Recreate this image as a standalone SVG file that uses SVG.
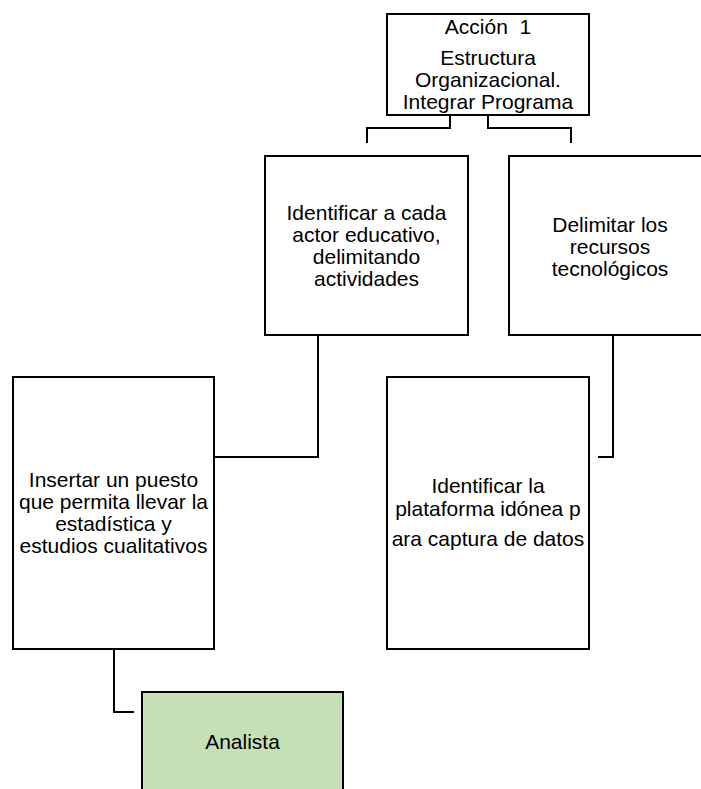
<svg xmlns="http://www.w3.org/2000/svg" width="701" height="789" viewBox="0 0 701 789">
<style>
.box{fill:#ffffff;stroke:#000000;stroke-width:2}
.green{fill:#C5E0B4;stroke:#000000;stroke-width:2}
.t{font-family:"Liberation Sans",Arial,sans-serif;font-size:21px;fill:#000000;text-anchor:middle}
.c{fill:none;stroke:#000000;stroke-width:2}
</style>
<rect width="701" height="789" fill="#ffffff"/>
<g id="connectors">
<polyline class="c" points="450,115 450,128 367,128 367,143"/>
<polyline class="c" points="488,115 488,128 571,128 571,143"/>
<polyline class="c" points="318,335 318,457 215,457"/>
<polyline class="c" points="613,335 613,457 598,457"/>
<polyline class="c" points="114,649 114,712 134,712"/>
</g>
<g id="accion1">
<rect class="box" x="387" y="14" width="202" height="101"/>
<text class="t" x="488" y="34" xml:space="preserve">Acción  1</text>
<text class="t" x="488" y="65">Estructura</text>
<text class="t" x="488" y="87">Organizacional.</text>
<text class="t" x="488" y="109">Integrar Programa</text>
</g>
<g id="identificar-actor">
<rect class="box" x="265" y="156" width="203" height="179"/>
<text class="t" x="366.5" y="220">Identificar a cada</text>
<text class="t" x="366.5" y="242">actor educativo,</text>
<text class="t" x="366.5" y="264">delimitando</text>
<text class="t" x="366.5" y="286">actividades</text>
</g>
<g id="delimitar-recursos">
<rect class="box" x="509" y="156" width="203" height="179"/>
<text class="t" x="610" y="232">Delimitar los</text>
<text class="t" x="610" y="254">recursos</text>
<text class="t" x="610" y="276">tecnológicos</text>
</g>
<g id="insertar-puesto">
<rect class="box" x="13" y="377" width="201" height="272"/>
<text class="t" x="113.5" y="487">Insertar un puesto</text>
<text class="t" x="113.5" y="509">que permita llevar la</text>
<text class="t" x="113.5" y="531">estadística y</text>
<text class="t" x="113.5" y="553">estudios cualitativos</text>
</g>
<g id="identificar-plataforma">
<rect class="box" x="387" y="377" width="202" height="272"/>
<text class="t" x="488" y="493">Identificar la</text>
<text class="t" x="488" y="516">plataforma idónea p</text>
<text class="t" x="488" y="546">ara captura de datos</text>
</g>
<g id="analista">
<rect class="green" x="142" y="692" width="201" height="110"/>
<text class="t" x="242.5" y="749">Analista</text>
</g>
</svg>
